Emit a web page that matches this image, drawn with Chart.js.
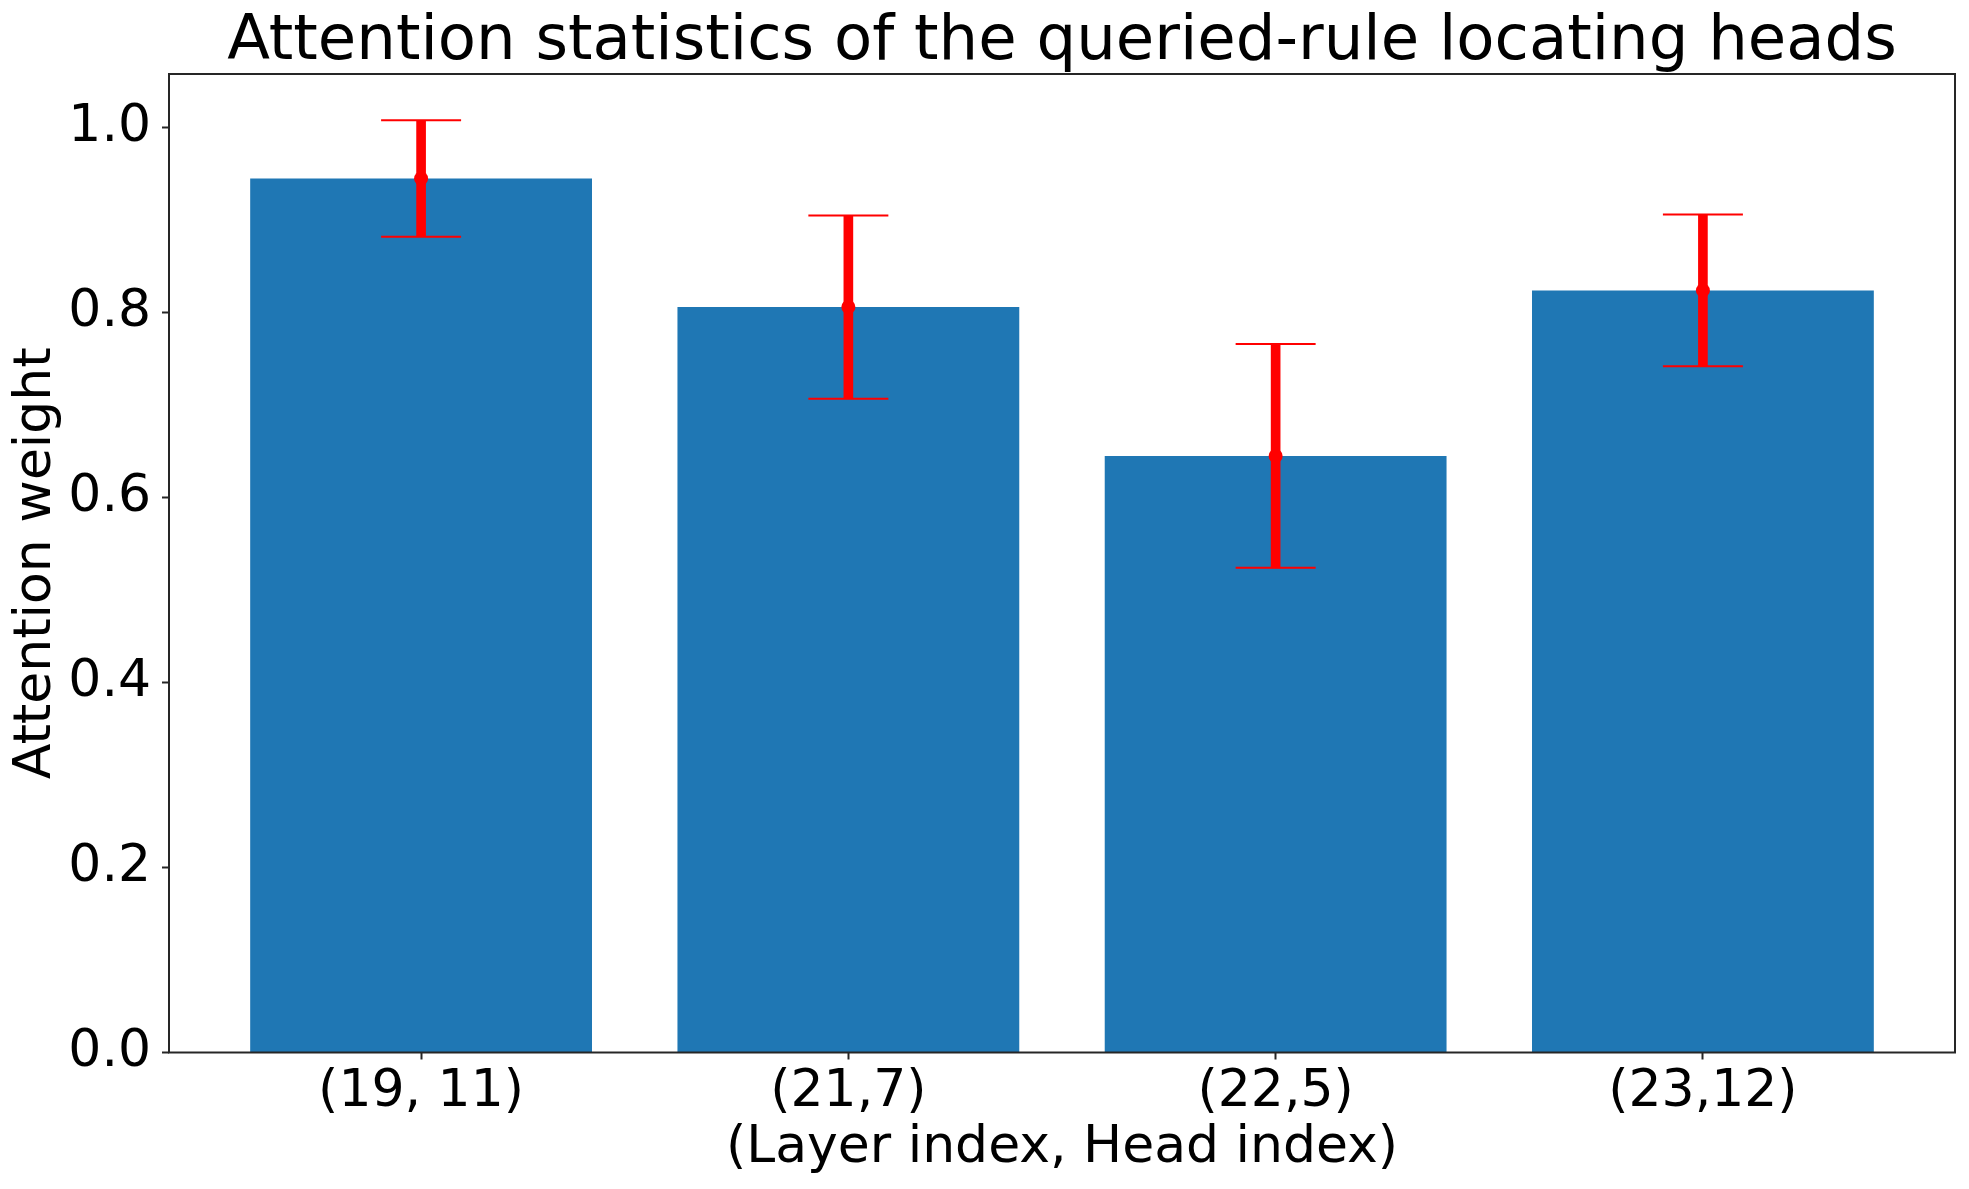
<!DOCTYPE html>
<html>
<head>
<meta charset="utf-8">
<title>Attention statistics</title>
<script src="https://cdn.jsdelivr.net/npm/chart.js@4.4.0/dist/chart.umd.min.js"></script>
<style>
  html, body { margin: 0; padding: 0; background: #fff; }
  #wrap { width: 1969px; height: 1189px; }
</style>
</head>
<body>
<div id="wrap"><canvas id="attnChart" width="1969" height="1189"></canvas></div>
<script>
const heads  = ["(19, 11)", "(21,7)", "(22,5)", "(23,12)"];
const means  = [0.945, 0.806, 0.645, 0.824];
const errs   = [0.063, 0.099, 0.121, 0.082];
const yTicks = [0.0, 0.2, 0.4, 0.6, 0.8, 1.0];

const FONT = "'DejaVu Sans', sans-serif";
const SPINE = "#262626";

// frame round the plot area, like matplotlib spines
const framePlugin = {
    id: "frame",
    afterDraw(chart) {
        const a = chart.chartArea;
        const ctx = chart.ctx;
        ctx.save();
        ctx.strokeStyle = SPINE;
        ctx.lineWidth = 2;
        ctx.strokeRect(a.left, a.top, a.right - a.left, a.bottom - a.top);
        ctx.restore();
    }
};

const barPts  = heads.map((h, i) => ({ x: i, y: means[i] }));
const errPts  = heads.map((h, i) => ({ x: i, y: [means[i] - errs[i], means[i] + errs[i]] }));
const capPts  = heads.flatMap((h, i) => [
    { x: i, y: means[i] - errs[i] },
    { x: i, y: means[i] + errs[i] }
]);

new Chart(document.getElementById("attnChart"), {
    type: "bar",
    data: {
        datasets: [
            {
                type: "bar", xAxisID: "x", yAxisID: "y",
                data: barPts,
                backgroundColor: "#1f77b4",
                barPercentage: 0.8,
                categoryPercentage: 1.0,
                grouped: false,
                order: 3
            },
            {
                // error bar stems as floating bars
                type: "bar", xAxisID: "x", yAxisID: "y",
                data: errPts,
                backgroundColor: "#ff0000",
                barThickness: 9,
                grouped: false,
                order: 2
            },
            {
                // caps
                type: "line", xAxisID: "x", yAxisID: "y",
                data: capPts,
                showLine: false,
                pointStyle: "line",
                pointRadius: 40,
                pointBorderWidth: 2,
                borderColor: "#ff0000",
                order: 1
            },
            {
                type: "line", xAxisID: "x", yAxisID: "y",
                data: barPts,
                showLine: false,
                pointStyle: "circle",
                pointRadius: 7,
                pointBorderWidth: 0,
                backgroundColor: "#ff0000",
                borderColor: "#ff0000",
                order: 0
            }
        ]
    },
    options: {
        responsive: false,
        animation: false,
        devicePixelRatio: 1,
        layout: { autoPadding: false, padding: { top: 0, left: 0, right: 14, bottom: 0 } },
        plugins: {
            legend: { display: false },
            tooltip: { enabled: false },
            title: { display: false }
        },
        scales: {
            x: {
                type: "linear",
                min: -0.59,
                max: 3.59,
                offset: false,
                afterBuildTicks: axis => { axis.ticks = heads.map((h, i) => ({ value: i })); },
                afterFit: axis => { axis.height = 136.5; axis.paddingLeft = 0; axis.paddingRight = 0; },
                ticks: {
                    color: "#000",
                    font: { family: FONT, size: 52, lineHeight: 1.2 },
                    padding: 2,
                    maxRotation: 0,
                    autoSkip: false,
                    callback: v => heads[v]
                },
                grid: {
                    offset: false,
                    drawOnChartArea: false,
                    drawTicks: true,
                    tickLength: 7,
                    tickWidth: 2,
                    tickColor: SPINE
                },
                border: { display: false },
                title: {
                    display: true,
                    text: "(Layer index, Head index)",
                    color: "#000",
                    font: { family: FONT, size: 52, lineHeight: 1.2 },
                    padding: { top: 0, bottom: 9 }
                }
            },
            // top axis only carries the title so it is centred over the plot area
            top: {
                type: "linear",
                position: "top",
                min: -0.59,
                max: 3.59,
                offset: false,
                afterFit: axis => { axis.height = 74; axis.paddingLeft = 0; axis.paddingRight = 0; },
                ticks: { display: false },
                grid: { display: false },
                border: { display: false },
                title: {
                    display: true,
                    text: "Attention statistics of the queried-rule locating heads",
                    color: "#000",
                    font: { family: FONT, size: 62.5, lineHeight: 1.0 },
                    padding: { top: 12, bottom: 0 }
                }
            },
            y: {
                min: 0,
                max: 1.058,
                afterBuildTicks: axis => { axis.ticks = yTicks.map(v => ({ value: v })); },
                afterFit: axis => { axis.width = 169; },
                ticks: {
                    color: "#000",
                    font: { family: FONT, size: 52 },
                    padding: 11,
                    callback: v => v.toFixed(1)
                },
                grid: {
                    drawOnChartArea: false,
                    drawTicks: true,
                    tickLength: 7,
                    tickWidth: 2,
                    tickColor: SPINE
                },
                border: { display: false },
                title: {
                    display: true,
                    text: "Attention weight",
                    color: "#000",
                    font: { family: FONT, size: 52, lineHeight: 1.2 },
                    padding: { top: 5, bottom: 0 }
                }
            }
        }
    },
    plugins: [framePlugin]
});
</script>
</body>
</html>
